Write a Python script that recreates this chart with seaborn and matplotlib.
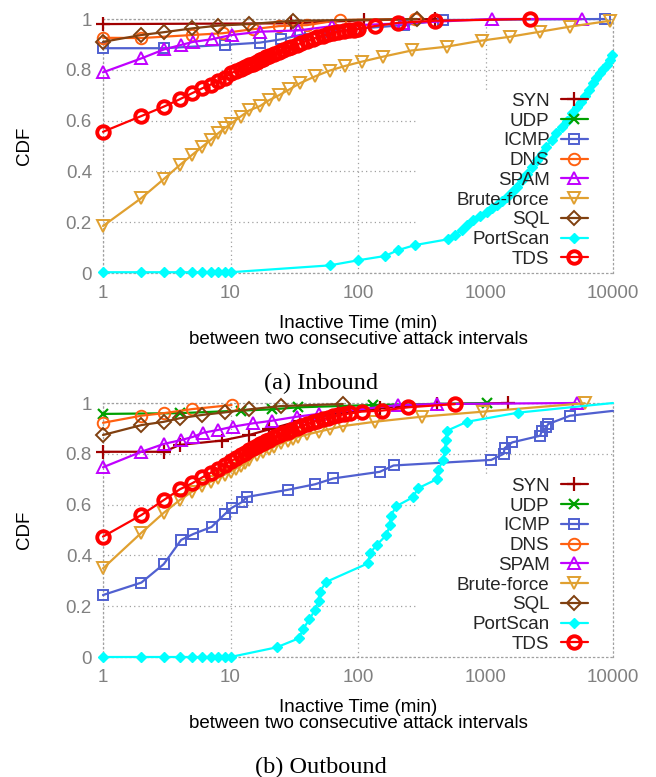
import numpy as np
import pandas as pd
import matplotlib
matplotlib.use("Agg")
import matplotlib.pyplot as plt
from matplotlib.ticker import NullLocator
from matplotlib.patches import Rectangle
import seaborn as sns

# ---------------- data: inbound ----------------
syn_in_x = [1, 30, 112, 400]
syn_in_y = [0.980, 0.983, 0.995, 1.0]
udp_in_x = []
udp_in_y = []
icmp_in_x = [1, 3, 9, 17, 25, 35, 60, 100, 230, 460, 8700]
icmp_in_y = [0.885, 0.885, 0.898, 0.907, 0.92, 0.937, 0.95, 0.962, 0.976, 0.996, 1.0]
dns_in_x = [1, 2, 5, 8.7, 15, 24, 40, 72, 280]
dns_in_y = [0.926, 0.925, 0.937, 0.944, 0.96, 0.972, 0.976, 0.996, 1.0]
spam_in_x = [1, 2, 3, 4.1, 5.1, 7.1, 10.2, 17, 34, 63, 226, 1120, 5700]
spam_in_y = [0.79, 0.845, 0.88, 0.898, 0.91, 0.92, 0.937, 0.95, 0.955, 0.972, 0.983, 1.0, 1.0]
brute_in_x = [1, 2, 3, 4, 5, 6, 7, 8, 9, 10, 12, 14, 17, 20, 24, 29, 35, 46, 60, 79,
              107, 158, 263, 495, 935, 1550, 2680, 4600, 9460]
brute_in_y = [0.185, 0.295, 0.37, 0.425, 0.465, 0.497, 0.524, 0.55, 0.57, 0.587, 0.616, 0.64,
              0.657, 0.68, 0.70, 0.723, 0.747, 0.774, 0.797, 0.815, 0.832, 0.852, 0.876,
              0.891, 0.915, 0.93, 0.95, 0.97, 0.993]
sql_in_x = [1, 2, 3, 5, 8, 14, 31, 290]
sql_in_y = [0.91, 0.937, 0.948, 0.963, 0.974, 0.98, 0.993, 1.0]
port_in_x = [1, 2, 3, 4, 5, 6, 7, 8, 9, 10, 60, 100, 163, 206, 280, 510, 575, 650, 720, 800,
             900, 1020, 1120, 1230, 1350, 1480, 1620, 1760, 1920, 2100, 2300, 2530, 2750,
             3000, 3300, 3600, 3950, 4350, 4750, 5200, 5600, 6000, 6450, 6950, 7400, 7900,
             8400, 8900, 9400, 9800]
port_in_y = [0.003] * 10 + [0.03, 0.05, 0.067, 0.09, 0.11, 0.133, 0.15, 0.17, 0.19, 0.21,
                            0.225, 0.24, 0.255, 0.268, 0.285, 0.30, 0.32, 0.34, 0.365, 0.39,
                            0.418, 0.445, 0.47, 0.497, 0.523, 0.55, 0.575, 0.60, 0.628, 0.655,
                            0.675, 0.695, 0.72, 0.747, 0.767, 0.786, 0.803, 0.82, 0.84, 0.858]
tds_in_x = [1, 2, 3, 4, 5, 6, 7, 8, 9, 10, 11, 12, 13, 14, 15, 16, 17, 18, 19, 20, 22, 24, 26,
            28, 30, 33, 36, 40, 44, 48, 53, 58, 64, 70, 77, 85, 93, 100, 135, 206, 400, 2230]
tds_in_y = [0.556, 0.618, 0.655, 0.684, 0.708, 0.727, 0.742, 0.756, 0.769, 0.786, 0.795, 0.803,
            0.812, 0.818, 0.824, 0.830, 0.839, 0.844, 0.849, 0.855, 0.864, 0.872, 0.879, 0.885,
            0.891, 0.899, 0.906, 0.915, 0.922, 0.928, 0.935, 0.940, 0.945, 0.950, 0.953, 0.956,
            0.958, 0.960, 0.972, 0.985, 0.993, 1.0]

# ---------------- data: outbound ----------------
syn_out_x = [1, 3, 4, 8.5, 14, 20, 35, 70, 150, 415, 1500]
syn_out_y = [0.808, 0.808, 0.835, 0.852, 0.874, 0.896, 0.93, 0.96, 0.98, 0.995, 1.0]
udp_out_x = [1, 4, 12, 21, 34, 131, 1030]
udp_out_y = [0.957, 0.96, 0.97, 0.975, 0.983, 0.992, 1.0]
icmp_out_x = [1, 2, 3, 4.1, 5.1, 7.1, 9, 10.2, 12.3, 13.4, 28, 46, 64, 148, 190, 1110, 1390,
              1410, 1620, 2680, 2770, 3000, 3100, 4600, 10000]
icmp_out_y = [0.244, 0.293, 0.366, 0.461, 0.484, 0.512, 0.562, 0.587, 0.61, 0.63, 0.658, 0.68,
              0.703, 0.729, 0.754, 0.776, 0.8, 0.822, 0.845, 0.871, 0.89, 0.904, 0.917, 0.95,
              0.969]
dns_out_x = [1, 2, 3, 5, 10.2]
dns_out_y = [0.922, 0.95, 0.96, 0.976, 0.992]
spam_out_x = [1, 2, 3, 4.1, 5.1, 6.1, 8, 10.5, 15, 21, 33, 49, 206, 415, 5200]
spam_out_y = [0.747, 0.808, 0.839, 0.854, 0.867, 0.883, 0.894, 0.907, 0.92, 0.93, 0.946, 0.957,
              0.992, 0.996, 1.0]
brute_out_x = [1, 2, 3, 4, 5, 6, 7, 8, 9, 10, 11, 12, 13, 14, 16, 18, 20, 22, 25, 28, 31, 34,
               40, 49, 60, 76, 135, 315, 960, 6000]
brute_out_y = [0.349, 0.489, 0.568, 0.618, 0.651, 0.673, 0.69, 0.705, 0.718, 0.73, 0.742,
               0.753, 0.763, 0.775, 0.795, 0.808, 0.818, 0.828, 0.841, 0.851, 0.86, 0.867,
               0.876, 0.887, 0.897, 0.909, 0.926, 0.946, 0.966, 0.999]
sql_out_x = [1, 2, 3, 4, 6, 9, 14, 25, 76]
sql_out_y = [0.874, 0.913, 0.926, 0.94, 0.953, 0.963, 0.975, 0.988, 0.996]
port_out_x = [1, 2, 3, 4, 5, 6, 7, 8, 9, 10, 23, 34.5, 37, 41.5, 46, 49, 50, 56.5, 120, 124,
              140, 167, 178, 180, 200, 270, 295, 415, 425, 465, 480, 490, 500, 716, 1800, 10000]
port_out_y = [0.0] * 10 + [0.038, 0.074, 0.109, 0.148, 0.185, 0.222, 0.257, 0.296, 0.369,
                           0.408, 0.441, 0.48, 0.52, 0.555, 0.594, 0.629, 0.664, 0.70, 0.736,
                           0.776, 0.815, 0.854, 0.891, 0.926, 0.962, 1.0]
tds_out_x = [1, 2, 3, 4, 5, 6, 7, 8, 9, 10, 11, 12, 13, 14, 15, 16, 17, 18, 19, 20, 22, 24, 26,
             28, 30, 33, 36, 40, 44, 48, 53, 58, 64, 70, 77, 87, 107, 154, 248, 575]
tds_out_y = [0.474, 0.559, 0.618, 0.66, 0.684, 0.707, 0.725, 0.742, 0.757, 0.77, 0.782, 0.795,
             0.805, 0.815, 0.823, 0.83, 0.837, 0.843, 0.85, 0.855, 0.865, 0.873, 0.88, 0.887,
             0.893, 0.901, 0.908, 0.917, 0.925, 0.931, 0.937, 0.942, 0.947, 0.951, 0.955,
             0.959, 0.966, 0.97, 0.983, 0.996]

series_names = ["SYN", "UDP", "ICMP", "DNS", "SPAM", "Brute-force", "SQL", "PortScan", "TDS"]
x_ticks = [1, 10, 100, 1000, 10000]
x_tick_labels = ["1", "10", "100", "1000", "10000"]
y_ticks = [0, 0.2, 0.4, 0.6, 0.8, 1.0]
y_tick_labels = ["0", "0.2", "0.4", "0.6", "0.8", "1"]

inbound = [(syn_in_x, syn_in_y), (udp_in_x, udp_in_y), (icmp_in_x, icmp_in_y),
           (dns_in_x, dns_in_y), (spam_in_x, spam_in_y), (brute_in_x, brute_in_y),
           (sql_in_x, sql_in_y), (port_in_x, port_in_y), (tds_in_x, tds_in_y)]
outbound = [(syn_out_x, syn_out_y), (udp_out_x, udp_out_y), (icmp_out_x, icmp_out_y),
            (dns_out_x, dns_out_y), (spam_out_x, spam_out_y), (brute_out_x, brute_out_y),
            (sql_out_x, sql_out_y), (port_out_x, port_out_y), (tds_out_x, tds_out_y)]

# ---------------- styles ----------------
styles = {
    "SYN": dict(color="#a00000", marker="+", markersize=9.5, markerfacecolor="#a00000",
                markeredgewidth=1.6),
    "UDP": dict(color="#00a000", marker="x", markersize=7.5, markerfacecolor="#00a000",
                markeredgewidth=1.6),
    "ICMP": dict(color="#5060d0", marker="s", markersize=7.8, markerfacecolor="none",
                 markeredgewidth=1.4),
    "DNS": dict(color="#ff6010", marker="o", markersize=8.3, markerfacecolor="none",
                markeredgewidth=1.4),
    "SPAM": dict(color="#c000ff", marker="^", markersize=8.5, markerfacecolor="none",
                 markeredgewidth=1.4),
    "Brute-force": dict(color="#e0a030", marker="v", markersize=8.5, markerfacecolor="none",
                        markeredgewidth=1.4),
    "SQL": dict(color="#804010", marker="D", markersize=7.0, markerfacecolor="none",
                markeredgewidth=1.4),
    "PortScan": dict(color="#00ffff", marker="D", markersize=5.5, markerfacecolor="#00ffff",
                     markeredgewidth=1.0),
    "TDS": dict(color="#ff0000", marker="o", markersize=9.0, markerfacecolor="none",
                markeredgewidth=2.8),
}

sns.set_style("white")
plt.rcParams["font.family"] = ["Liberation Sans", "DejaVu Sans"]

W, H = 656, 777
fig = plt.figure(figsize=(W / 100, H / 100), dpi=100)

grid_col = "#a0a0a0"
dot = (0, (1, 2.5))


def fx(px):
    return px / W


def fy(py):
    return 1 - py / H


def make_axes(top_px, bottom_px, data, legend_bottom, box_top):
    ax = fig.add_axes([fx(103), fy(bottom_px), fx(613) - fx(103), (bottom_px - top_px) / H])
    ax.set_xscale("log")
    ax.set_axisbelow(True)
    for name, (xs, ys) in zip(series_names, data):
        st = dict(styles[name])
        if len(xs) == 0:
            ax.plot([], [], linewidth=1.6, label=name, markeredgecolor=st["color"], **st)
            continue
        extra = {}
        # last point at the right border carries no marker
        if xs[-1] >= 10000 and name in ("ICMP", "PortScan"):
            extra["markevery"] = list(range(len(xs) - 1))
        sns.lineplot(x=xs, y=ys, ax=ax, estimator=None, sort=False, linewidth=1.6,
                     markeredgecolor=st["color"], label=name, clip_on=False,
                     zorder=3, legend=False, **st, **extra)
    ax.set_xlim(1, 10000)
    ax.set_ylim(0, 1)
    ax.set_xticks(x_ticks)
    ax.set_xticklabels(x_tick_labels)
    ax.xaxis.set_minor_locator(NullLocator())
    ax.set_yticks(y_ticks)
    ax.set_yticklabels(y_tick_labels)
    ax.tick_params(axis="both", length=0, labelsize=13.5, labelcolor="#808080")
    ax.tick_params(axis="x", pad=9)
    ax.tick_params(axis="y", pad=8)
    ax.grid(True, which="major", linestyle=dot, color=grid_col, linewidth=0.9)
    for s in ax.spines.values():
        s.set_visible(True)
        s.set_linestyle(dot)
        s.set_color(grid_col)
        s.set_linewidth(0.9)
        s.set_zorder(2.5)
    ax.set_xlabel("")
    ax.set_ylabel("")
    # opaque key area hiding grid lines
    ax.add_patch(Rectangle((0.616, 0.0), 0.384, box_top, transform=ax.transAxes,
                           facecolor="white", edgecolor="none", zorder=1))
    handles, labels = ax.get_legend_handles_labels()
    ax.legend(handles, labels, loc="lower right", bbox_to_anchor=(0.951, legend_bottom),
              markerfirst=False, frameon=False, fontsize=13.5, handlelength=1.45,
              handletextpad=0.6, labelspacing=0.14, borderpad=0, borderaxespad=0)
    return ax


ax1 = make_axes(19, 273, inbound, 0.02, 0.72)
ax2 = make_axes(403, 657, outbound, 0.016, 0.717)

for top_px, bottom_px, cap, cap_y in [(19, 273, "(a) Inbound", 383), (403, 657, "(b) Outbound", 767)]:
    fig.text(fx(25), fy((top_px + bottom_px) / 2), "CDF", rotation=90, ha="center",
             va="center", fontsize=13.5, color="black")
    fig.text(fx(358), fy(bottom_px + 50), "Inactive Time (min)", ha="center", va="center",
             fontsize=13.5, color="black")
    fig.text(fx(358), fy(bottom_px + 66), "between two consecutive attack intervals",
             ha="center", va="center", fontsize=13.5, color="black")
    fig.text(fx(321), fy(cap_y), cap, ha="center", va="center", fontsize=17.5,
             family=["Liberation Serif", "DejaVu Serif"], color="black")

fig.savefig("out.png", dpi=100)
